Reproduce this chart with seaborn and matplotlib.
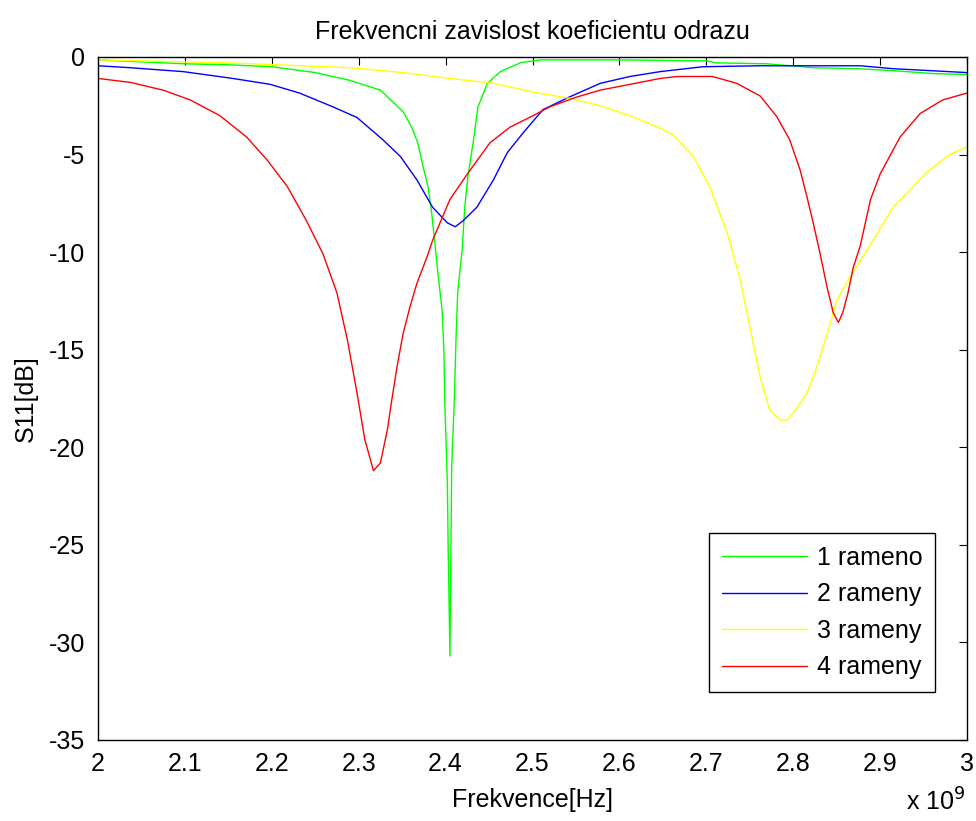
import matplotlib
matplotlib.use("Agg")
import matplotlib.pyplot as plt
import numpy as np
import pandas as pd
import seaborn as sns

# frequency in GHz (axis shows x 10^9), S11 in dB
f_1 = [2.000, 2.050, 2.100, 2.150, 2.200, 2.250, 2.290, 2.325, 2.351, 2.361, 2.368,
       2.374, 2.380, 2.384, 2.388, 2.391, 2.396, 2.398, 2.399, 2.402, 2.403, 2.405,
       2.407, 2.410, 2.412, 2.414, 2.419, 2.422, 2.426, 2.432, 2.437, 2.448, 2.463,
       2.486, 2.509, 2.600, 2.700, 2.710, 2.770, 2.823, 2.873, 2.915, 2.961, 3.000]
s_1 = [-0.15, -0.25, -0.35, -0.40, -0.50, -0.80, -1.2, -1.7, -2.8, -3.6, -4.4,
       -5.6, -6.7, -8.0, -9.7, -11.0, -13.0, -15.0, -17.6, -21.8, -25.3, -30.7,
       -21.0, -17.6, -14.4, -12.0, -9.9, -7.7, -6.0, -4.3, -2.6, -1.35, -0.75,
       -0.30, -0.15, -0.15, -0.20, -0.30, -0.35, -0.55, -0.60, -0.70, -0.85, -0.90]

f_2 = [2.000, 2.037, 2.098, 2.155, 2.198, 2.232, 2.270, 2.298, 2.328, 2.348, 2.367,
       2.385, 2.402, 2.411, 2.420, 2.436, 2.455, 2.471, 2.489, 2.512, 2.540, 2.578,
       2.612, 2.647, 2.696, 2.762, 2.877, 2.915, 3.000]
s_2 = [-0.45, -0.55, -0.75, -1.1, -1.4, -1.85, -2.55, -3.1, -4.25, -5.1, -6.3,
       -7.7, -8.5, -8.7, -8.4, -7.7, -6.3, -4.9, -3.9, -2.7, -2.1, -1.35,
       -1.0, -0.75, -0.5, -0.45, -0.45, -0.6, -0.8]

f_3 = [2.000, 2.148, 2.206, 2.290, 2.351, 2.405, 2.455, 2.501, 2.540, 2.574, 2.612,
       2.647, 2.662, 2.685, 2.704, 2.724, 2.739, 2.750, 2.762, 2.773, 2.785, 2.793,
       2.804, 2.816, 2.827, 2.839, 2.850, 2.865, 2.885, 2.915, 2.954, 2.980, 3.000]
s_3 = [-0.15, -0.3, -0.4, -0.55, -0.8, -1.1, -1.35, -1.8, -2.1, -2.45, -3.0,
       -3.65, -4.0, -5.1, -6.65, -9.0, -11.4, -13.8, -16.4, -18.1, -18.6, -18.6,
       -18.0, -17.2, -15.9, -14.2, -12.5, -11.3, -9.9, -7.7, -5.9, -5.0, -4.6]

f_4 = [2.000, 2.037, 2.075, 2.106, 2.140, 2.171, 2.195, 2.218, 2.240, 2.259, 2.275,
       2.287, 2.298, 2.307, 2.317, 2.325, 2.333, 2.338, 2.344, 2.351, 2.359, 2.367,
       2.379, 2.385, 2.405, 2.425, 2.451, 2.474, 2.501, 2.520, 2.551, 2.578, 2.647,
       2.666, 2.707, 2.735, 2.762, 2.781, 2.796, 2.808, 2.816, 2.823, 2.831, 2.839,
       2.846, 2.852, 2.857, 2.863, 2.869, 2.877, 2.889, 2.900, 2.923, 2.946, 2.972,
       3.000]
s_4 = [-1.1, -1.3, -1.7, -2.2, -3.0, -4.1, -5.3, -6.65, -8.4, -10.1, -12.1,
       -14.5, -17.2, -19.6, -21.2, -20.8, -19.1, -17.6, -15.9, -14.2, -12.8, -11.6,
       -10.2, -9.4, -7.3, -6.0, -4.4, -3.6, -3.0, -2.55, -2.05, -1.7, -1.1,
       -1.0, -1.0, -1.35, -2.0, -3.05, -4.25, -5.8, -7.2, -8.5, -10.1, -11.8,
       -13.1, -13.6, -13.1, -12.1, -10.8, -9.7, -7.3, -6.0, -4.1, -2.9, -2.2,
       -1.85]

labels = ["1 rameno", "2 rameny", "3 rameny", "4 rameny"]
colors = ["#00ff00", "#0000ff", "#ffff00", "#ff0000"]
x_ticks = [2.0, 2.1, 2.2, 2.3, 2.4, 2.5, 2.6, 2.7, 2.8, 2.9, 3.0]
x_ticklabels = ["2", "2.1", "2.2", "2.3", "2.4", "2.5", "2.6", "2.7", "2.8", "2.9", "3"]
y_ticks = [0, -5, -10, -15, -20, -25, -30, -35]

frames = []
for f, s, lab in zip([f_1, f_2, f_3, f_4], [s_1, s_2, s_3, s_4], labels):
    frames.append(pd.DataFrame({"f": f, "s11": s, "serie": lab}))
df = pd.concat(frames, ignore_index=True)

sns.set_style("white")
plt.rcParams["font.family"] = ["Liberation Sans", "DejaVu Sans"]
plt.rcParams["axes.unicode_minus"] = False
plt.rcParams["text.color"] = "black"
plt.rcParams["axes.labelcolor"] = "black"

fig = plt.figure(figsize=(9.76, 8.21), dpi=100)
ax = fig.add_axes([0.1004, 0.0987, 0.8904, 0.8319])

sns.lineplot(data=df, x="f", y="s11", hue="serie", hue_order=labels,
             palette=dict(zip(labels, colors)), estimator=None, sort=False,
             linewidth=1.0, ax=ax)

ax.set_xlim(2, 3)
ax.set_ylim(-35, 0)
ax.set_xticks(x_ticks)
ax.set_xticklabels(x_ticklabels)
ax.set_yticks(y_ticks)
ax.set_yticklabels([str(v) for v in y_ticks])
ax.tick_params(direction="in", length=6, width=0.8, top=True, right=True,
               labelsize=18, colors="black", labelcolor="black", pad=9)
for sp in ax.spines.values():
    sp.set_color("black")
    sp.set_linewidth(1.0)

ax.set_title("Frekvencni zavislost koeficientu odrazu", fontsize=18, pad=13, color="black")
ax.set_xlabel("Frekvence[Hz]", fontsize=18, labelpad=8, color="black")
ax.set_ylabel("S11[dB]", fontsize=18, labelpad=8, color="black")
fig.text(0.928, 0.006, r"x 10$^9$", fontsize=18, ha="left", va="bottom", color="black")

leg = ax.legend(loc="lower right", bbox_to_anchor=(0.963, 0.0703), fontsize=18,
                frameon=True, fancybox=False, edgecolor="black", framealpha=1,
                handlelength=3.4, labelspacing=0.5, borderpad=0.5,
                handletextpad=0.4, borderaxespad=0)
leg.get_frame().set_linewidth(1.0)
for text in leg.get_texts():
    text.set_color("black")
for line in leg.get_lines():
    line.set_linewidth(1.0)

fig.savefig("out.png", dpi=100)
